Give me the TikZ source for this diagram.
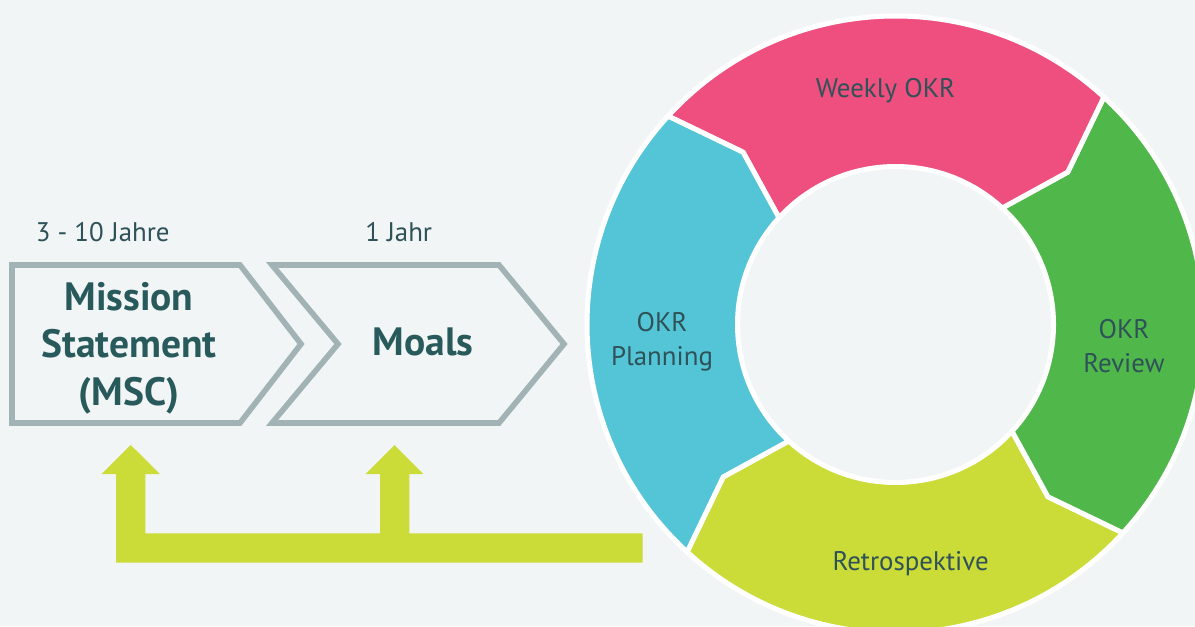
\documentclass[tikz,border=0pt]{standalone}
\usepackage{fontspec}
\setmainfont{PT Sans}
\usetikzlibrary{calc}

\definecolor{pagebg}{HTML}{F2F5F6}
\definecolor{framegray}{HTML}{A2B3B5}
\definecolor{darkteal}{HTML}{285A5C}
\definecolor{labelteal}{HTML}{2E5257}
\definecolor{okrpink}{HTML}{EF4F7F}
\definecolor{okrgreen}{HTML}{50B84B}
\definecolor{okrlime}{HTML}{CBDB37}
\definecolor{okrcyan}{HTML}{54C5D7}

\tikzset{
  stage/.style={draw=framegray, line width=3.2pt, fill=pagebg},
  stagetext/.style={text=darkteal, font=\fontsize{22.5}{27}\selectfont\bfseries, align=center, anchor=base},
  period/.style={text=labelteal, font=\fontsize{15.3}{19}\selectfont, anchor=base},
  phase/.style={draw=white, line width=2.85pt},
  phasetext/.style={text=labelteal, font=\fontsize{15.3}{19}\selectfont, align=center, anchor=base},
}

\begin{document}
\begin{tikzpicture}[x=0.02cm, y=0.02cm]

    % Page background
    \fill[pagebg] (0,0) rectangle (1195,626);
    \useasboundingbox (0,0) rectangle (1195,626);
    \clip (0,0) rectangle (1195,626);

    % Draw the two chevrons
    \draw[stage] (12,361) -- (240,361) -- (301,282) -- (240,203) -- (12,203) -- cycle;
    \draw[stage] (272,361) -- (499,361) -- (564,282) -- (499,203) -- (272,203) -- (338,282) -- cycle;

    % Chevron texts (base = last line)
    \node[stagetext] (msc) at (129,221) {Mission\\Statement\\(MSC)};
    \node[stagetext] (moals) at (423,270.3) {Moals};
    \node[period] (long) at (102.7,384.3) {3 - 10 Jahre};
    \node[period] (short) at (398.7,384.3) {1 Jahr};

    % Feedback arrows back to the chevrons
    \fill[okrlime] (116,63.3) -- (642.7,63.3) -- (642.7,92.7) -- (409.3,92.7) -- (409.3,152)
        -- (423.3,152) -- (394.5,181) -- (365.7,152) -- (380,152) -- (380,92.7)
        -- (145.3,92.7) -- (145.3,152) -- (160,152) -- (130.7,181) -- (101.7,152)
        -- (116,152) -- cycle;

    % Define the center of the ring
    \coordinate (O) at (895.5,301.5);

    \begin{scope}[shift={(O)}]
    % Outer radius 308.5, inner radius 158, kink at 230
    % Retrospektive
    \filldraw[phase, fill=okrlime] (-132.5:308.5) arc[start angle=-132.5, end angle=-42.5, radius=308.5]
        -- (-48.5:230) -- (-42.5:158) arc[start angle=-42.5, end angle=-132.5, radius=158]
        -- (-138.5:230) -- cycle;
    % OKR Review
    \filldraw[phase, fill=okrgreen] (-42.5:308.5) arc[start angle=-42.5, end angle=47.5, radius=308.5]
        -- (41.5:230) -- (47.5:158) arc[start angle=47.5, end angle=-42.5, radius=158]
        -- (-48.5:230) -- cycle;
    % Weekly OKR
    \filldraw[phase, fill=okrpink] (47.5:308.5) arc[start angle=47.5, end angle=137.5, radius=308.5]
        -- (131.5:230) -- (137.5:158) arc[start angle=137.5, end angle=47.5, radius=158]
        -- (41.5:230) -- cycle;
    % OKR Planning
    \filldraw[phase, fill=okrcyan] (137.5:308.5) arc[start angle=137.5, end angle=227.5, radius=308.5]
        -- (221.5:230) -- (227.5:158) arc[start angle=227.5, end angle=137.5, radius=158]
        -- (131.5:230) -- cycle;
    \end{scope}

    % Ring labels
    \node[phasetext] (weekly) at (885.5,528.2) {Weekly OKR};
    \node[phasetext] (planning) at (662,260.7) {OKR\\Planning};
    \node[phasetext] (review) at (1124,254) {OKR\\Review};
    \node[phasetext] (retro) at (910.6,55.1) {Retrospektive};

\end{tikzpicture}
\end{document}
